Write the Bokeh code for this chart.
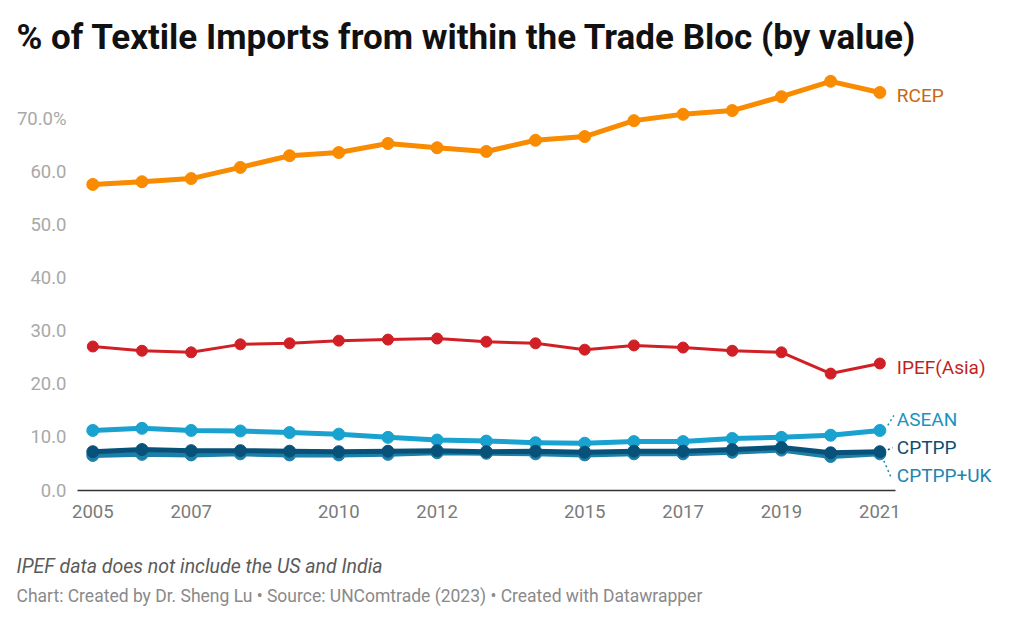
from bokeh.plotting import figure
from bokeh.models import Range1d, FixedTicker, Title
from bokeh.core.properties import value
from bokeh.embed import file_html
from bokeh.resources import INLINE

# ---------------- data ----------------
years = list(range(2005, 2022))
rcep = [57.6, 58.1, 58.7, 60.8, 63.0, 63.6, 65.3, 64.5, 63.8, 65.9, 66.6, 69.6, 70.8, 71.5, 74.1, 77.0, 74.9]
ipef = [27.1, 26.3, 26.0, 27.5, 27.7, 28.2, 28.4, 28.6, 28.0, 27.7, 26.5, 27.3, 26.9, 26.3, 26.0, 22.0, 23.9]
asean = [11.3, 11.7, 11.3, 11.2, 10.9, 10.6, 10.0, 9.5, 9.3, 9.0, 8.9, 9.2, 9.2, 9.8, 10.0, 10.4, 11.3]
cptpp = [7.3, 7.7, 7.5, 7.5, 7.4, 7.3, 7.4, 7.5, 7.3, 7.4, 7.2, 7.4, 7.4, 7.7, 8.1, 7.1, 7.3]
cptpp_uk = [6.6, 6.8, 6.7, 6.9, 6.7, 6.7, 6.8, 7.1, 7.0, 6.9, 6.7, 6.9, 6.9, 7.2, 7.6, 6.4, 6.9]

x_ticks = [2005, 2007, 2010, 2012, 2015, 2017, 2019, 2021]
y_ticks = [0, 10, 20, 30, 40, 50, 60, 70]
y_tick_labels = ["0.0", "10.0", "20.0", "30.0", "40.0", "50.0", "60.0", "70.0%"]

title_text = "% of Textile Imports from within the Trade Bloc (by value)"
note_text = "IPEF data does not include the US and India"
source_text = "Chart: Created by Dr. Sheng Lu \u2022 Source: UNComtrade (2023) \u2022 Created with Datawrapper"

# ---------------- styles / layout ----------------
W, H = 1023, 622
F_LEFT, F_RIGHT, F_TOP, F_BOTTOM = 77, 1013, 68, 490
PX_PER_YEAR = 49.19
PX_PER_UNIT = 5.314
x_start = 2005 - (92.3 - F_LEFT) / PX_PER_YEAR
x_end = 2005 + (F_RIGHT - 92.3) / PX_PER_YEAR
y_start = 0.0
y_end = (F_BOTTOM - F_TOP) / PX_PER_UNIT

FONT = "Roboto"

series = [
    # name, values, line color, label color, line width, marker size, label y offset(px), leader
    ("RCEP", rcep, "#f98b00", "#c8680f", 5, 12, 3, None),
    ("IPEF(Asia)", ipef, "#d11f26", "#c21f24", 3, 11, 4, None),
    ("ASEAN", asean, "#19a2cf", "#1a93c0", 5, 12, -11, (8, -5, 14, -15)),
    ("CPTPP+UK", cptpp_uk, "#1c7fa8", "#1d85b0", 5, 12, 22, (4, 7, 11, 23)),
    ("CPTPP", cptpp, "#08527a", "#0e4f70", 5, 12, -4, (8, -2, 13, -4)),
]

p = figure(width=W, height=H, output_backend="svg", toolbar_location=None,
           x_range=Range1d(x_start, x_end), y_range=Range1d(y_start, y_end),
           min_border_left=F_LEFT, min_border_right=W - F_RIGHT,
           min_border_top=F_TOP, min_border_bottom=H - F_BOTTOM)
p.outline_line_color = None
p.background_fill_color = "white"
p.border_fill_color = "white"
p.grid.visible = False

p.title.text = title_text
p.title.text_font = FONT
p.title.text_font_size = "35px"
p.title.text_font_style = "bold"
p.title.text_color = "#111111"
p.title.align = "left"
p.title.offset = 16 - F_LEFT
p.title.standoff = 21

# axes
xa = p.xaxis[0]
xa.ticker = FixedTicker(ticks=x_ticks)
xa.bounds = (x_start, 2005 + (895 - 92.3) / PX_PER_YEAR)
xa.axis_line_color = "#333333"
xa.axis_line_width = 1.5
xa.major_tick_line_color = None
xa.minor_tick_line_color = None
xa.major_label_text_font = FONT
xa.major_label_text_font_size = "18.5px"
xa.major_label_text_color = "#7a7a7a"
xa.major_label_standoff = 8

ya = p.yaxis[0]
ya.ticker = FixedTicker(ticks=y_ticks)
ya.major_label_overrides = {t: l for t, l in zip(y_ticks, y_tick_labels)}
ya.axis_line_color = None
ya.major_tick_line_color = None
ya.minor_tick_line_color = None
ya.major_label_text_font = FONT
ya.major_label_text_font_size = "18.5px"
ya.major_label_text_color = "#a8a8a8"
ya.major_label_standoff = 5

for name, vals, lc, tc, lw, ms, dy, leader in series:
    p.line(years, vals, line_color=lc, line_width=lw, line_join="round", line_cap="round")
    p.scatter(years, vals, size=ms, fill_color=lc, line_color=lc)

for name, vals, lc, tc, lw, ms, dy, leader in series:
    last_x, last_y = years[-1], vals[-1]
    p.text([last_x], [last_y], text=[name], x_offset=17, y_offset=dy,
           text_font=value(FONT), text_font_size="19px", text_color=tc,
           text_align="left", text_baseline="middle")
    if leader is not None:
        dx0, dy0, dx1, dy1 = leader
        p.segment(x0=[last_x + dx0 / PX_PER_YEAR], y0=[last_y - dy0 / PX_PER_UNIT],
                  x1=[last_x + dx1 / PX_PER_YEAR], y1=[last_y - dy1 / PX_PER_UNIT],
                  line_color=tc, line_width=1.5, line_dash="2 3")

note = Title(text=note_text, text_font=FONT, text_font_size="19.5px", text_font_style="italic",
             text_color="#5a5a5a", align="left", offset=16 - F_LEFT, standoff=65)
src = Title(text=source_text, text_font=FONT, text_font_size="17.5px", text_font_style="normal",
            text_color="#8a8a8a", align="left", vertical_align="top",
            offset=16 - F_LEFT, standoff=-49)
p.add_layout(note, "below")
p.add_layout(src, "below")

open("out.html", "w").write(file_html(p, INLINE))
